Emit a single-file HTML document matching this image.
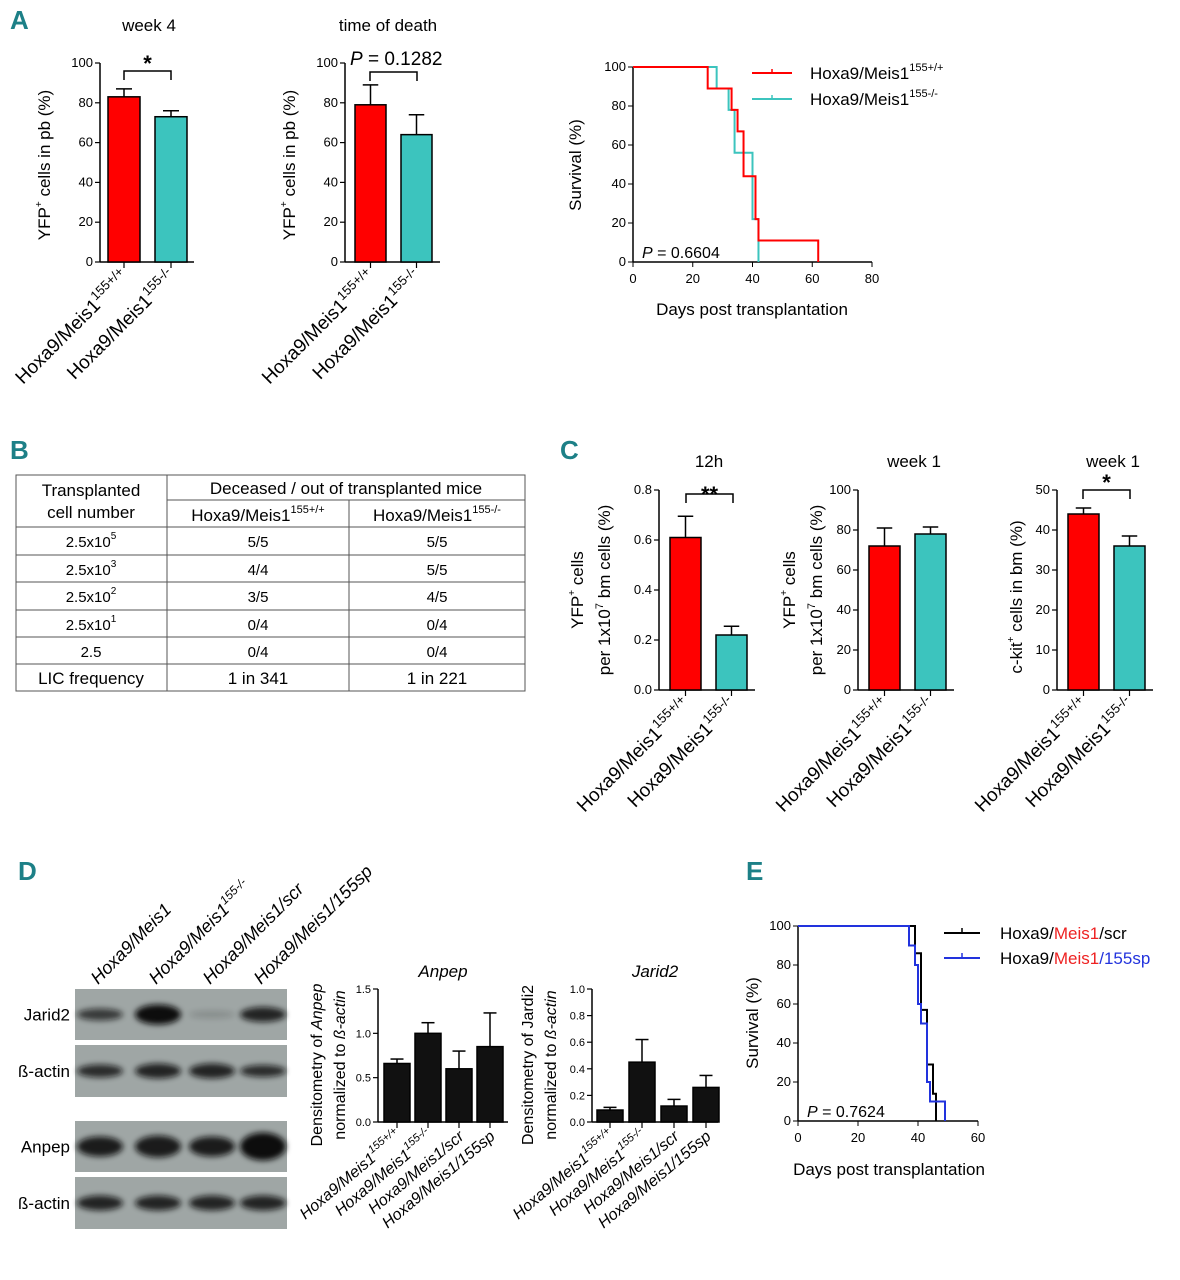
<!DOCTYPE html>
<html><head><meta charset="utf-8"><style>
html,body{margin:0;padding:0;background:#fff}
svg{display:block;font-family:"Liberation Sans",Arial,sans-serif}
.t{font-size:13px}
.pl{font-size:26px;font-weight:bold;fill:#1d8087;font-family:"Liberation Sans Narrow","Liberation Sans",sans-serif}
</style></head><body>
<svg id="fig" width="1180" height="1280" viewBox="0 0 1180 1280">
<g id="root"></g>
</svg>
<script>
// ---- data ----
const groupsA = ["Hoxa9/Meis1|155+/+","Hoxa9/Meis1|155-/-"];
const week4Vals = [83, 73];
const week4Err = [4, 3];
const deathVals = [79, 64];
const deathErr = [10, 10];
const c12hVals = [0.61, 0.22];
const c12hErr = [0.085, 0.035];
const cW1Vals = [72, 78];
const cW1Err = [9, 3.5];
const cKitVals = [44, 36];
const cKitErr = [1.5, 2.5];
const anpepVals = [0.66, 1.0, 0.6, 0.85];
const anpepErr = [0.05, 0.12, 0.2, 0.38];
const jaridVals = [0.09, 0.45, 0.12, 0.26];
const jaridErr = [0.02, 0.17, 0.05, 0.09];
const groupsD = ["Hoxa9/Meis1|155+/+","Hoxa9/Meis1|155-/-","Hoxa9/Meis1/scr|","Hoxa9/Meis1/155sp|"];
const survARedX = [0,25,33,35,37,41,42,62];
const survARedY = [100,89,78,67,44,22,11,0];
const survATealX = [0,28,32,34,40,42];
const survATealY = [100,89,78,56,22,0];
const survEBlackX = [0,39,41,43,45,46];
const survEBlackY = [100,86,57,29,14,0];
const survEBlueX = [0,37,39,40,41,43,44,49];
const survEBlueY = [100,90,80,60,50,20,10,0];
const tableRows = [["2.5x10|5","5/5","5/5"],["2.5x10|3","4/4","5/5"],["2.5x10|2","3/5","4/5"],["2.5x10|1","0/4","0/4"],["2.5|","0/4","0/4"],["LIC frequency|","1 in 341","1 in 221"]];

const NS="http://www.w3.org/2000/svg";
const root=document.getElementById('root');
function el(tag,attrs,parent,txt){const e=document.createElementNS(NS,tag);for(const k in attrs)e.setAttribute(k,attrs[k]);if(txt!==undefined)e.textContent=txt;(parent||root).appendChild(e);return e;}
function sup(t,base,s,sz){el('tspan',{},t,base);if(s){el('tspan',{dy:-8,'font-size':sz||11},t,s);}}

function barChart(o){
  const g=el('g',{});
  
  
  const y=v=>o.y0-(v/o.max)*(o.y0-o.y1);
  el('line',{x1:o.ax,y1:o.y0,x2:o.ax,y2:o.y1,stroke:'#000','stroke-width':1.5},g);
  el('line',{x1:o.ax,y1:o.y0,x2:o.axEnd,y2:o.y0,stroke:'#000','stroke-width':1.5},g);
  o.ticks.forEach((tv,i)=>{const yy=y(tv);el('line',{x1:o.ax-5,y1:yy,x2:o.ax,y2:yy,stroke:'#000','stroke-width':1.2},g);
    const t=el('text',{x:o.ax-7,y:yy+4,'text-anchor':'end','font-size':o.tfs||13},g,o.tickLabels[i]);
    });
  o.vals.forEach((v,i)=>{
    const x0=o.bx0+i*o.step, cx=x0+o.bw/2;
    const e=o.err[i];
    el('line',{x1:cx,y1:y(v),x2:cx,y2:y(v+e),stroke:'#000','stroke-width':1.5},g);
    el('line',{x1:cx-o.bw/4,y1:y(v+e),x2:cx+o.bw/4,y2:y(v+e),stroke:'#000','stroke-width':1.5},g);
    const r=el('rect',{x:x0,y:y(v),width:o.bw,height:o.y0-y(v),fill:o.colors[i],stroke:'#000','stroke-width':1.5},g);
    
    el('line',{x1:cx,y1:o.y0,x2:cx,y2:o.y0+6,stroke:'#000','stroke-width':1.2},g);
    const p=o.groups[i].split('|');
    const t=el('text',{transform:`translate(${cx+6},${o.y0+16}) rotate(${o.rot||-45})`,'text-anchor':'end','font-size':o.xfs||19,'font-style':o.italic?'italic':'normal'},g);
    
    sup(t,p[0],p[1],o.supfs||13);
  });
  return g;
}
const RED='#ff0000',TEAL='#3cc4be';
function yLabel(x,y,lines,fs){const t=el('text',{transform:`translate(${x},${y}) rotate(-90)`,'text-anchor':'middle','font-size':fs||17});lines(t);return t;}
function bracket(x1,x2,y,txt,ty,fs){el('path',{d:`M${x1},${y+9}V${y}H${x2}V${y+9}`,fill:'none',stroke:'#000','stroke-width':1.5});const t=el('text',{x:(x1+x2)/2,y:ty,'text-anchor':'middle','font-size':fs||22,'font-weight':'bold'},root,txt);}
function title(x,y,s,it){const t=el('text',{x:x,y:y,'text-anchor':'middle','font-size':17,'font-style':it?'italic':'normal'},root,s);}
function panel(x,y,s){const t=el('text',{x:x,y:y,'class':'pl'},root,s);}

// Panel A
panel(10,29,'A');
title(149,31,'week 4');
barChart({name:'week4-chart',ax:100,axEnd:194,y0:262,y1:63,max:100,ticks:[0,20,40,60,80,100],tickLabels:['0','20','40','60','80','100'],vals:week4Vals,err:week4Err,bx0:108,bw:32,step:47,colors:[RED,TEAL],groups:groupsA});
bracket(124,171,71,'*',71);
yLabel(50,165,t=>{sup(t,'YFP','+',10);el('tspan',{dy:8},t,' cells in pb (%)');});
title(388,31,'time of death');
barChart({name:'time-of-death-chart',ax:345,axEnd:440,y0:262,y1:63,max:100,ticks:[0,20,40,60,80,100],tickLabels:['0','20','40','60','80','100'],vals:deathVals,err:deathErr,bx0:355,bw:31,step:46,colors:[RED,TEAL],groups:groupsA});
bracket(370,417,72,'',0);
{const t=el('text',{x:350,y:65,'font-size':19});el('tspan',{'font-style':'italic'},t,'P');el('tspan',{},t,' = 0.1282');}
yLabel(295,165,t=>{sup(t,'YFP','+',10);el('tspan',{dy:8},t,' cells in pb (%)');});

function survival(o){
  const g=el('g',{});
  const X=v=>o.x0+v/o.xmax*(o.x1-o.x0), Y=v=>o.y0-v/100*(o.y0-o.y1);
  el('line',{x1:o.x0,y1:o.y0,x2:o.x1,y2:o.y0,stroke:'#000','stroke-width':1.5},g);
  el('line',{x1:o.x0,y1:o.y0,x2:o.x0,y2:o.y1,stroke:'#000','stroke-width':1.5},g);
  [0,20,40,60,80,100].forEach(v=>{el('line',{x1:o.x0-5,y1:Y(v),x2:o.x0,y2:Y(v),stroke:'#000'},g);el('text',{x:o.x0-7,y:Y(v)+4,'text-anchor':'end','class':'t'},g,String(v));});
  o.xticks.forEach(v=>{el('line',{x1:X(v),y1:o.y0,x2:X(v),y2:o.y0+5,stroke:'#000'},g);el('text',{x:X(v),y:o.y0+21,'text-anchor':'middle','class':'t'},g,String(v));});
  o.series.forEach(s=>{let d=`M${X(s.x[0])},${Y(s.y[0])}`;for(let i=1;i<s.x.length;i++){d+=`H${X(s.x[i])}V${Y(s.y[i])}`;}
    const p=el('path',{d:d,fill:'none',stroke:s.c,'stroke-width':2},g);});
}
survival({name:'survival-chart-a',x0:633,x1:872,y0:262,y1:67,xmax:80,xticks:[0,20,40,60,80],series:[{x:survATealX,y:survATealY,c:TEAL},{x:survARedX,y:survARedY,c:RED}]});
{const t=el('text',{x:642,y:258,'font-size':16});el('tspan',{'font-style':'italic'},t,'P');el('tspan',{},t,' = 0.6604');}
yLabel(581,165,t=>{t.textContent='Survival (%)';});
{const t=el('text',{x:752,y:315,'text-anchor':'middle','font-size':17},root,'Days post transplantation');}
[[73,RED,'155+/+'],[99,TEAL,'155-/-']].forEach(([yy,c,s])=>{const g=el('g',{});
  el('line',{x1:752,y1:yy,x2:792,y2:yy,stroke:c,'stroke-width':2},g);el('line',{x1:772,y1:yy-4,x2:772,y2:yy,stroke:c,'stroke-width':1.5},g);
  const t=el('text',{x:810,y:yy+6,'font-size':17},g);sup(t,'Hoxa9/Meis1',s,11);});

// Panel B table
panel(10,459,'B');
{const g=el('g',{});
 const L=16,R=525,C1=167,C2=349,rows=[475,500,527,555,582,610,637,664,691];
 el('rect',{x:L,y:475,width:R-L,height:216,fill:'none',stroke:'#555','stroke-width':1},g);
 el('line',{x1:C1,y1:475,x2:C1,y2:691,stroke:'#555'},g);
 el('line',{x1:C2,y1:500,x2:C2,y2:691,stroke:'#555'},g);
 el('line',{x1:C1,y1:500,x2:R,y2:500,stroke:'#555'},g);
 for(let i=2;i<8;i++)el('line',{x1:L,y1:rows[i],x2:R,y2:rows[i],stroke:'#555'},g);
 el('text',{x:91,y:496,'text-anchor':'middle','font-size':17},g,'Transplanted');
 el('text',{x:91,y:518,'text-anchor':'middle','font-size':17},g,'cell number');
 el('text',{x:346,y:494,'text-anchor':'middle','font-size':17},g,'Deceased / out of transplanted mice');
 let t=el('text',{x:258,y:521,'text-anchor':'middle','font-size':17},g);sup(t,'Hoxa9/Meis1','155+/+',11);
 t=el('text',{x:437,y:521,'text-anchor':'middle','font-size':17},g);sup(t,'Hoxa9/Meis1','155-/-',11);
 tableRows.forEach((r,i)=>{const yy=rows[i+2]+20;const p=r[0].split('|');
   const fs=i==5?17:15;
   const a=el('text',{x:91,y:yy,'text-anchor':'middle','font-size':fs},g);sup(a,p[0],p[1],10);
   el('text',{x:258,y:yy,'text-anchor':'middle','font-size':fs},g,r[1]);
   el('text',{x:437,y:yy,'text-anchor':'middle','font-size':fs},g,r[2]);});
}

// Panel C
panel(560,459,'C');
title(709,467,'12h');
barChart({name:'c-12h-chart',ax:659,axEnd:755,y0:690,y1:490,max:0.8,ticks:[0,0.2,0.4,0.6,0.8],tickLabels:['0.0','0.2','0.4','0.6','0.8'],vals:c12hVals,err:c12hErr,bx0:670,bw:31,step:46,colors:[RED,TEAL],groups:groupsA});
bracket(686,733,494,'**',502);
yLabel(583,590,t=>{sup(t,'YFP','+',10);el('tspan',{dy:8},t,' cells');});
yLabel(610,590,t=>{el('tspan',{},t,'per 1x10');el('tspan',{dy:-7,'font-size':11},t,'7');el('tspan',{dy:7},t,' bm cells (%)');});
title(914,467,'week 1');
barChart({name:'c-week1-yfp-chart',ax:858,axEnd:954,y0:690,y1:490,max:100,ticks:[0,20,40,60,80,100],tickLabels:['0','20','40','60','80','100'],vals:cW1Vals,err:cW1Err,bx0:869,bw:31,step:46,colors:[RED,TEAL],groups:groupsA});
yLabel(795,590,t=>{sup(t,'YFP','+',10);el('tspan',{dy:8},t,' cells');});
yLabel(822,590,t=>{el('tspan',{},t,'per 1x10');el('tspan',{dy:-7,'font-size':11},t,'7');el('tspan',{dy:7},t,' bm cells (%)');});
title(1113,467,'week 1');
barChart({name:'c-week1-ckit-chart',ax:1057,axEnd:1153,y0:690,y1:490,max:50,ticks:[0,10,20,30,40,50],tickLabels:['0','10','20','30','40','50'],vals:cKitVals,err:cKitErr,bx0:1068,bw:31,step:46,colors:[RED,TEAL],groups:groupsA});
bracket(1083,1130,490,'*',490);
yLabel(1022,597,t=>{sup(t,'c-kit','+',10);el('tspan',{dy:8},t,' cells in bm (%)');});

// Panel D blots
panel(18,880,'D');
{const g=el('g',{});
 el('defs',{},g).innerHTML='<filter id="bl" x="-30%" y="-80%" width="160%" height="260%"><feGaussianBlur stdDeviation="3"/></filter>';
 const strips=[[989,51,'Jarid2',[[0.7,12],[1,20],[0.15,8],[0.85,15]]],[1045,52,'ß-actin',[[0.8,13],[0.85,15],[0.85,15],[0.8,12]]],[1121,51,'Anpep',[[0.9,20],[0.9,22],[0.9,20],[1,28]]],[1177,52,'ß-actin',[[0.85,15],[0.85,15],[0.85,15],[0.85,15]]]];
 const lx=[100,158,212,263];
 strips.forEach(([y,h,name,b])=>{el('rect',{x:75,y:y,width:212,height:h,fill:'#9fa6a5'},g);
   b.forEach(([a,bh],i)=>el('ellipse',{cx:lx[i],cy:y+h/2,rx:23,ry:bh/2,fill:'#111',opacity:a,filter:'url(#bl)'},g));
   el('text',{x:70,y:y+h/2+6,'text-anchor':'end','font-size':17},g,name);});
 const lbl=[['Hoxa9/Meis1',''],['Hoxa9/Meis1','155-/-'],['Hoxa9/Meis1/scr',''],['Hoxa9/Meis1/155sp','']];
 lbl.forEach((l,i)=>{const t=el('text',{transform:`translate(${lx[i]-2},${985}) rotate(-45)`,'font-size':18,'font-style':'italic'},g);sup(t,l[0],l[1],12);});
}
title(443,977,'Anpep',true);
barChart({name:'anpep-densitometry-chart',ax:378,axEnd:508,y0:1122,y1:989,max:1.5,ticks:[0,0.5,1.0,1.5],tickLabels:['0.0','0.5','1.0','1.5'],vals:anpepVals,err:anpepErr,bx0:384,bw:26,step:31,colors:['#111','#111','#111','#111'],groups:groupsD,italic:true,xfs:16,tfs:11,rot:-40,supfs:11});
yLabel(322,1065,t=>{el('tspan',{},t,'Densitometry of ');el('tspan',{'font-style':'italic'},t,'Anpep');},16);
yLabel(345,1065,t=>{el('tspan',{},t,'normalized to ');el('tspan',{'font-style':'italic'},t,'ß-actin');},16);
title(655,977,'Jarid2',true);
barChart({name:'jarid2-densitometry-chart',ax:592,axEnd:718,y0:1122,y1:989,max:1.0,ticks:[0,0.2,0.4,0.6,0.8,1.0],tickLabels:['0.0','0.2','0.4','0.6','0.8','1.0'],vals:jaridVals,err:jaridErr,bx0:597,bw:26,step:32,colors:['#111','#111','#111','#111'],groups:groupsD,italic:true,xfs:16,tfs:11,rot:-40,supfs:11});
yLabel(533,1065,t=>{t.textContent='Densitometry of Jardi2';},16);
yLabel(556,1065,t=>{el('tspan',{},t,'normalized to ');el('tspan',{'font-style':'italic'},t,'ß-actin');},16);

// Panel E
panel(746,880,'E');
survival({name:'survival-chart-e',x0:798,x1:978,y0:1121,y1:926,xmax:60,xticks:[0,20,40,60],series:[{x:survEBlackX,y:survEBlackY,c:'#000'},{x:survEBlueX,y:survEBlueY,c:'#2233dd'}]});
{const t=el('text',{x:807,y:1117,'font-size':16});el('tspan',{'font-style':'italic'},t,'P');el('tspan',{},t,' = 0.7624');}
yLabel(758,1023,t=>{t.textContent='Survival (%)';});
{const t=el('text',{x:889,y:1175,'text-anchor':'middle','font-size':17},root,'Days post transplantation');}
[[933,'#000','scr'],[958,'#2233dd','155sp']].forEach(([yy,c,s],i)=>{const g=el('g',{});
  el('line',{x1:944,y1:yy,x2:980,y2:yy,stroke:c,'stroke-width':2},g);el('line',{x1:962,y1:yy-5,x2:962,y2:yy,stroke:c,'stroke-width':1.5},g);
  const t=el('text',{x:1000,y:yy+6,'font-size':17},g);el('tspan',{},t,'Hoxa9/');el('tspan',{fill:'#ee2222'},t,'Meis1');el('tspan',{fill:i?'#2233dd':'#000'},t,'/'+s);});
</script>
</body></html>
